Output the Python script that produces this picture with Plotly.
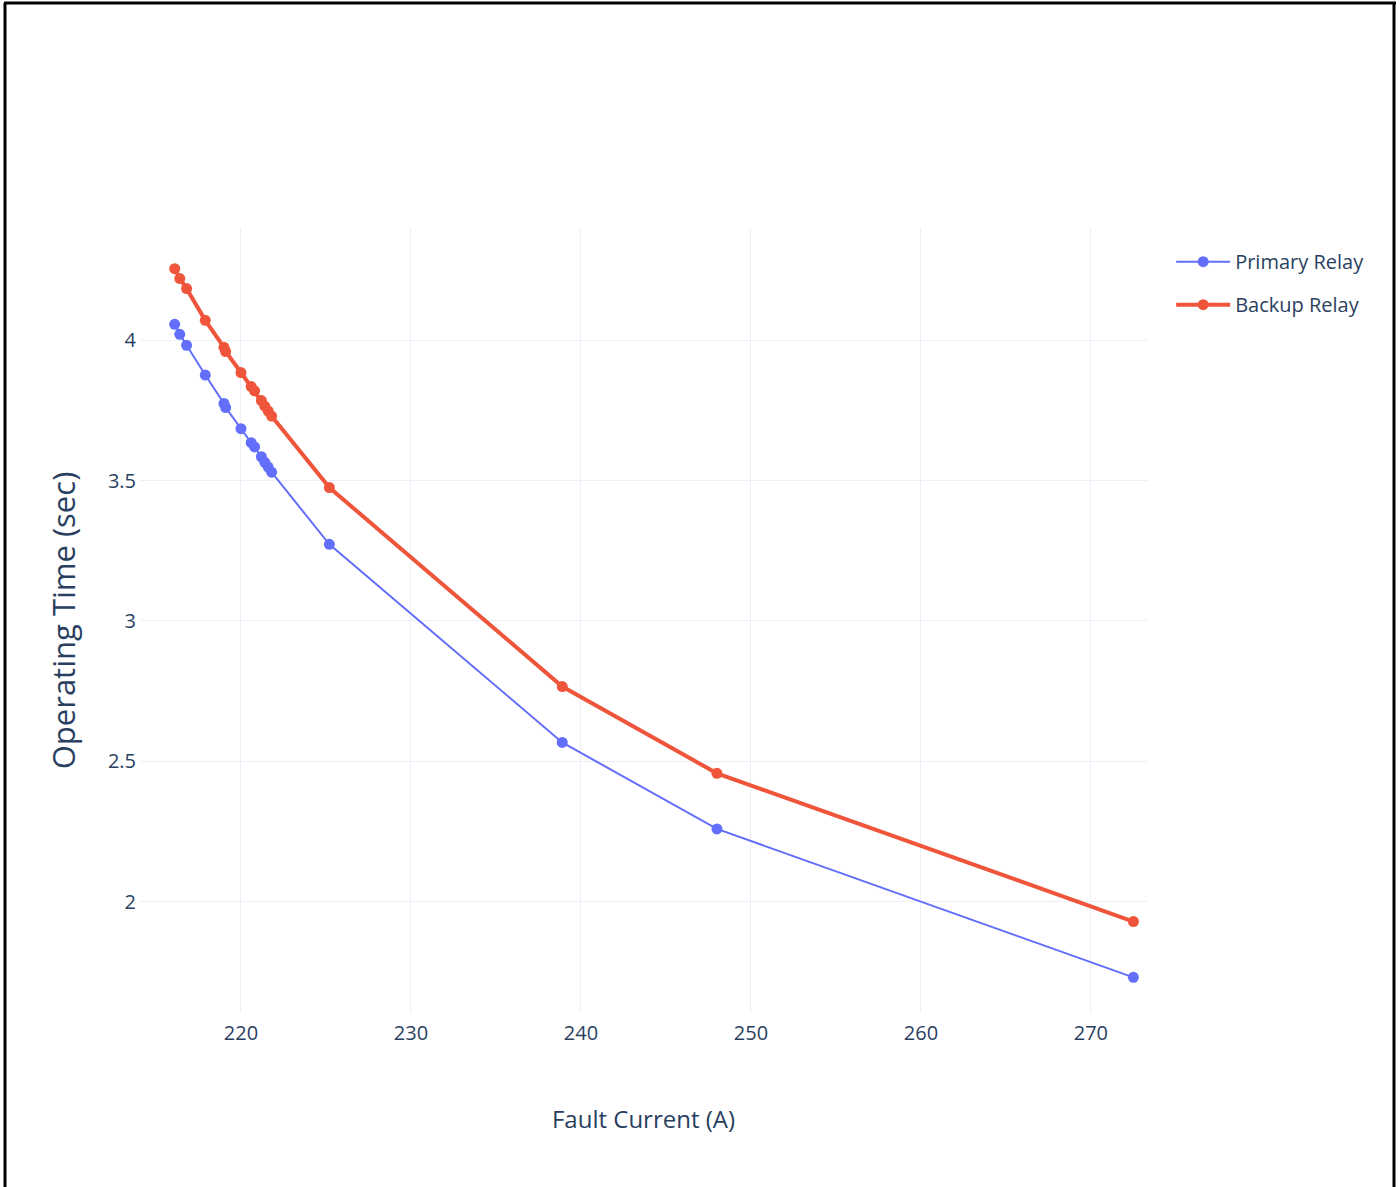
import plotly.graph_objects as go

fault_current = [216.1, 216.4, 216.8, 217.9, 219.0, 219.1, 220.0, 220.6, 220.8,
                 221.2, 221.4, 221.6, 221.8, 225.2, 238.9, 248.0, 272.5]
primary_time = [4.057, 4.021, 3.982, 3.876, 3.775, 3.76, 3.685, 3.635, 3.62,
                3.585, 3.565, 3.548, 3.53, 3.273, 2.567, 2.259, 1.73]
backup_time = [4.255, 4.22, 4.184, 4.071, 3.975, 3.96, 3.885, 3.835, 3.82,
               3.785, 3.765, 3.748, 3.73, 3.475, 2.766, 2.457, 1.929]

x_range = [214.06, 273.3]
y_range = [1.603, 4.40]

FONT = "Open Sans"

fig = go.Figure()
fig.add_trace(go.Scatter(x=fault_current, y=primary_time, mode="lines+markers",
                         name="Primary Relay", legendgroup="p",
                         line=dict(color="#636efa", width=2),
                         marker=dict(size=11, color="#636efa")))
fig.add_trace(go.Scatter(x=fault_current, y=backup_time, mode="lines+markers",
                         name="Backup Relay", legendgroup="b",
                         line=dict(color="#EF553B", width=4),
                         marker=dict(size=11, color="#EF553B")))

L, R, T, B = 140, 253, 228, 174
W, H = 1400, 1187
pw, ph = W - L - R, H - T - B

def px(xp):
    return (xp - L) / pw

def py(yp):
    return (H - B - yp) / ph

border = dict(color="black", width=3)
shapes = [
    dict(type="line", xref="paper", yref="paper", x0=px(4), x1=px(1396), y0=py(3), y1=py(3), line=border),
    dict(type="line", xref="paper", yref="paper", x0=px(5), x1=px(5), y0=py(3), y1=py(1190), line=border),
    dict(type="line", xref="paper", yref="paper", x0=px(1394), x1=px(1394), y0=py(3), y1=py(1190), line=border),
]

fig.update_layout(
    template="plotly_white",
    width=W, height=H,
    margin=dict(l=L, r=R, t=T, b=B),
    font=dict(family=FONT, color="#2a3f5f"),
    xaxis=dict(title=dict(text="Fault Current (A)", font=dict(size=24), standoff=66),
               tickfont=dict(size=20), range=x_range, ticklabelstandoff=6),
    yaxis=dict(title=dict(text="Operating Time (sec)", font=dict(size=31), standoff=23),
               tickfont=dict(size=20), range=y_range, ticklabelstandoff=3),
    legend=dict(font=dict(size=20), x=1.024, y=0.982, traceorder="grouped",
                tracegroupgap=14, itemwidth=54),
    shapes=shapes,
)

fig.write_html("out.html", config={"displayModeBar": False},
               post_script="document.body.style.margin='0';")
